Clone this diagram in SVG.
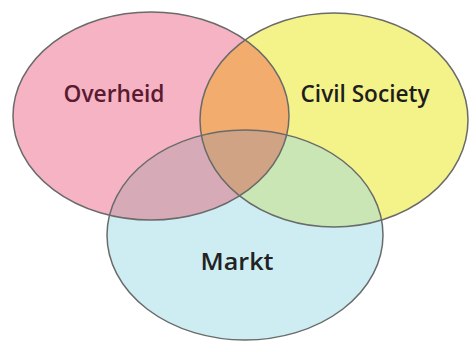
<svg xmlns="http://www.w3.org/2000/svg" width="470" height="343" viewBox="0 0 470 343">
<style>
.e{stroke:#6a6a6a;stroke-width:1.5;fill:none}
.t{font-family:"Open Sans","Liberation Sans",sans-serif;font-size:24px;font-weight:600;text-anchor:middle}
</style>
<defs>
<clipPath id="cp"><ellipse cx="151" cy="116" rx="138" ry="104"/></clipPath>
<clipPath id="cy"><ellipse cx="334" cy="120" rx="134" ry="107"/></clipPath>
</defs>
<rect width="470" height="343" fill="#ffffff"/>
<g id="overheid"><ellipse cx="151" cy="116" rx="138" ry="104" fill="#F5B3C4"/></g>
<g id="civil-society"><ellipse cx="334" cy="120" rx="134" ry="107" fill="#F4F389"/></g>
<g id="markt"><ellipse cx="245" cy="235" rx="138" ry="105" fill="#CDEDF2"/></g>
<g id="overlaps">
<g clip-path="url(#cp)"><ellipse cx="334" cy="120" rx="134" ry="107" fill="#F2AD6E"/><ellipse cx="245" cy="235" rx="138" ry="105" fill="#D6AAB6"/></g>
<g clip-path="url(#cy)"><ellipse cx="245" cy="235" rx="138" ry="105" fill="#C9E6B4"/></g>
<g clip-path="url(#cp)"><g clip-path="url(#cy)"><ellipse cx="245" cy="235" rx="138" ry="105" fill="#CFA383"/></g></g>
</g>
<g id="outlines">
<ellipse class="e" cx="151" cy="116" rx="138" ry="104"/>
<ellipse class="e" cx="334" cy="120" rx="134" ry="107"/>
<ellipse class="e" cx="245" cy="235" rx="138" ry="105"/>
</g>
<text class="t" x="114" y="102" fill="#5A1A30" textLength="101" lengthAdjust="spacingAndGlyphs">Overheid</text>
<text class="t" x="365" y="102" fill="#1E1E1E" textLength="129" lengthAdjust="spacingAndGlyphs">Civil Society</text>
<text class="t" x="237" y="270" fill="#222222" textLength="73" lengthAdjust="spacingAndGlyphs">Markt</text>
</svg>
